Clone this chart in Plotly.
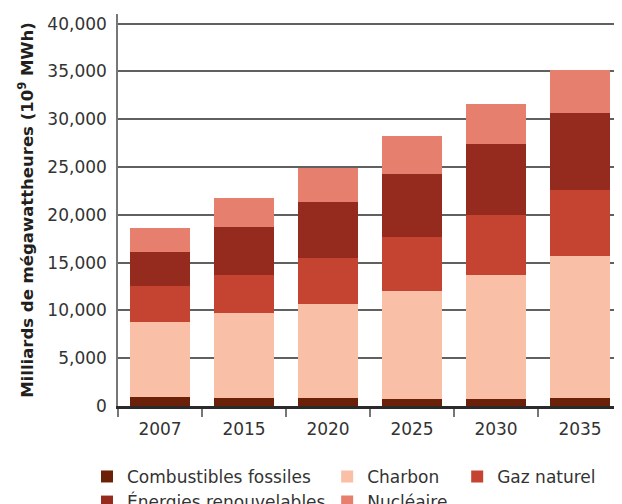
import plotly.graph_objects as go

years = ["2007", "2015", "2020", "2025", "2030", "2035"]
fossiles = [950, 830, 830, 730, 730, 830]
charbon = [7800, 8860, 9800, 11250, 12920, 14900]
gaz = [3850, 4060, 4890, 5720, 6350, 6870]
renouv = [3550, 5000, 5830, 6570, 7400, 8000]
nucleaire = [2500, 3020, 3580, 3960, 4160, 4500]

series = [
    ("Combustibles fossiles", fossiles, "#6B2008", "legend"),
    ("Charbon", charbon, "#F9BFA7", "legend2"),
    ("Gaz naturel", gaz, "#C54331", "legend3"),
    ("Énergies renouvelables", renouv, "#952A1F", "legend"),
    ("Nucléaire", nucleaire, "#E77F6F", "legend2"),
]

fig = go.Figure()
for name, vals, col, lg in series:
    fig.add_trace(go.Bar(x=years, y=vals, name=name, marker=dict(color=col, line=dict(width=0)),
                         width=0.724, legend=lg))

FONT = "DejaVu Sans"
legfont = dict(family=FONT, size=17, color="#333333")
LY = -0.135
common = dict(yanchor="top", y=LY, xanchor="left", traceorder="normal", font=legfont,
              orientation="v", bgcolor="rgba(0,0,0,0)", itemwidth=30, tracegroupgap=0)
# page body has an 8px margin, so the figure is 8px smaller and margins shifted
fig.update_layout(
    width=614, height=496,
    margin=dict(l=110, r=0, t=6, b=98, autoexpand=False),
    barmode="stack",
    plot_bgcolor="white", paper_bgcolor="white",
    font=dict(family=FONT, size=17, color="#333333"),
    xaxis=dict(
        type="category", showline=True, linecolor="#2a2a2a", linewidth=3, automargin=False,
        ticks="outside", tickson="boundaries", ticklen=8, tickcolor="#777777", tickwidth=1.5,
        showgrid=False, tickfont=dict(size=17, color="#333333"), ticklabelstandoff=6,
    ),
    yaxis=dict(
        range=[0, 41000], tickvals=[0, 5000, 10000, 15000, 20000, 25000, 30000, 35000, 40000],
        tickformat=",d", showgrid=True, gridcolor="#606060", gridwidth=1.5, automargin=False,
        zeroline=False, showline=True, linecolor="#777777", linewidth=1.5,
        ticks="", ticklabelstandoff=6, tickfont=dict(size=17, color="#333333"),
        title=dict(text="Milliards de mégawattheures (10<sup>9</sup> MWh)",
                   font=dict(family="DejaVu Sans, sans-serif", size=16.5, color="#231f20", weight="bold"),
                   standoff=10),
    ),
    legend=dict(x=-0.0615, **common),
    legend2=dict(x=0.415, **common),
    legend3=dict(x=0.673, **common),
    bargap=0.276,
)

fig.write_html("out.html")
